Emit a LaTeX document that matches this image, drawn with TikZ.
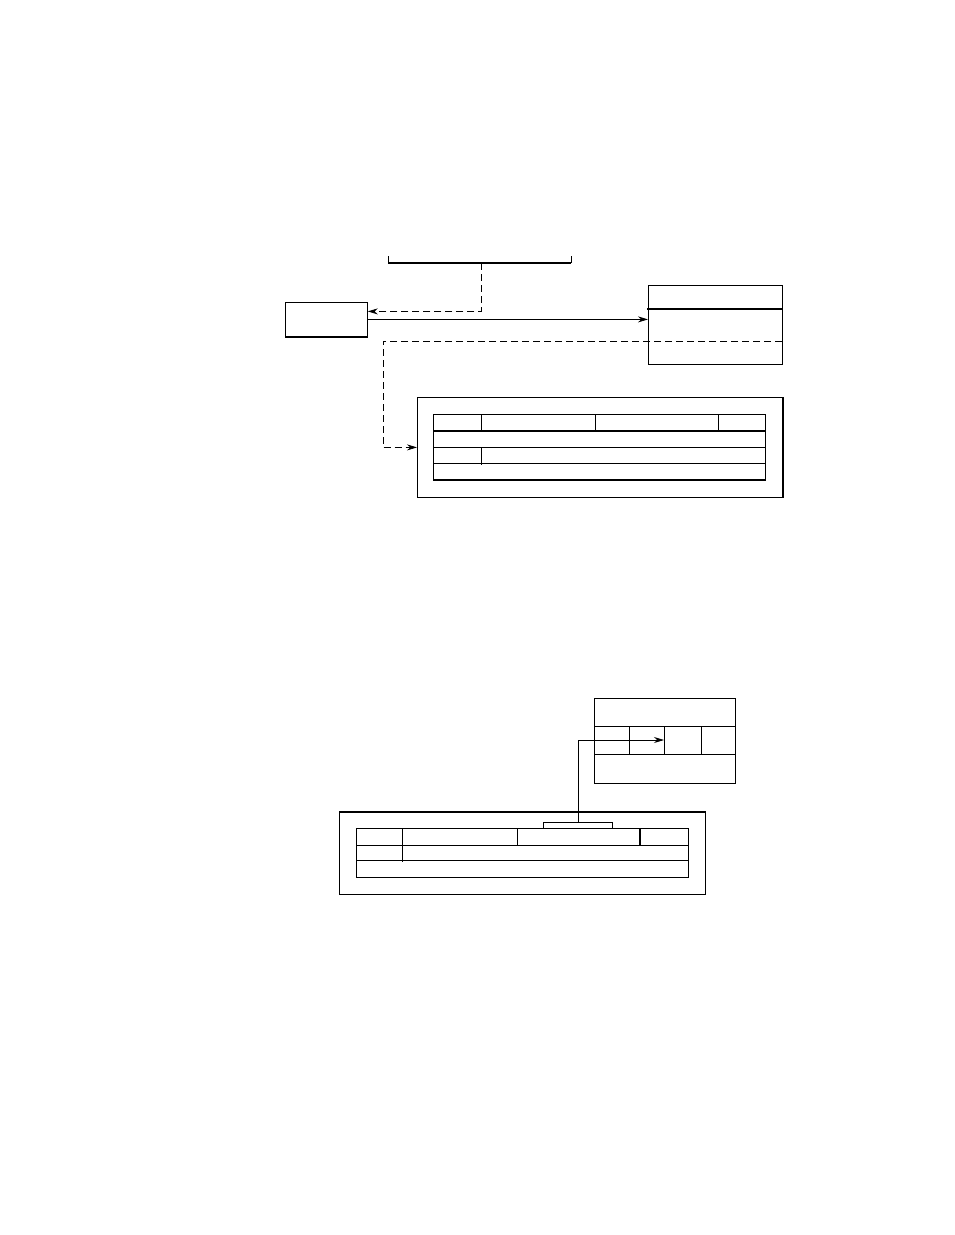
\documentclass[tikz,border=0pt]{standalone}
\usetikzlibrary{arrows.meta}
\tikzset{
  box/.style={draw,inner sep=0pt,anchor=north west},
  heavy/.style={line width=1.7pt},
  conn/.style={-{Stealth[length=10pt,width=6pt]}},
  dashline/.style={dash pattern=on 7pt off 4pt},
}
\begin{document}
\begin{tikzpicture}[x=1pt,y=-1pt,line width=0.8pt]
\useasboundingbox (0,0) rectangle (954,1235);

\draw (388,256) -- (388,263) (571,263) -- (571,256);
\draw[heavy] (388,263) -- (571,263);
\coordinate (bus) at (481,263);
\node[box,minimum width=82pt,minimum height=34pt] (src) at (285,302) {};
\draw[heavy] (src.south west) -- (src.south east);
\node[box,minimum width=134pt,minimum height=79pt] (tbl) at (648,285) {};
\draw[heavy] (647,309) -- (782,309);
\coordinate (rec) at (782,341);
\coordinate (bend) at (383,341);
\node[box,minimum width=365pt,minimum height=100pt] (frame) at (417,397) {};
\draw[heavy] (frame.north east) -- (frame.south east);

\draw[conn,dashline] (bus) |- ([yshift=8pt]src.east);
\draw[conn] (src.east) -- (src.east -| tbl.west);
\draw[conn,dashline] (rec) -- (bend) |- (frame.west);

\draw (433,414) rectangle (765,480);
\draw[heavy] (433,431) -- (766,431);
\draw[heavy] (433,480) -- (766,480);
\foreach \y in {447,463}
 \draw (433,\y) -- (766,\y);
\foreach \x in {481,595,718}
 \draw (\x,414) -- (\x,431);
\draw (481,447) -- (481,465);

\node[box,minimum width=141pt,minimum height=85pt] (buf) at (594,698) {};
\foreach \y in {726,754}
 \draw (594,\y) -- (736,\y);
\foreach \x in {629,664,701}
 \draw (\x,726) -- (\x,754);
\coordinate (slot) at (664,740);

\node[box,minimum width=366pt,minimum height=82pt] (frame2) at (339,812) {};
\draw[heavy] (frame2.north west) -- (frame2.north east);
\node[box,minimum width=69pt,minimum height=6pt] (tab) at (543,822) {};
\draw[conn] (tab.north) |- (slot);

\draw (356,828) rectangle (688,877);
\foreach \y in {845,860}
 \draw (356,\y) -- (689,\y);
\draw (402,828) -- (402,862);
\draw (517,828) -- (517,845);
\draw[heavy] (640,828) -- (640,845);
\end{tikzpicture}
\end{document}
